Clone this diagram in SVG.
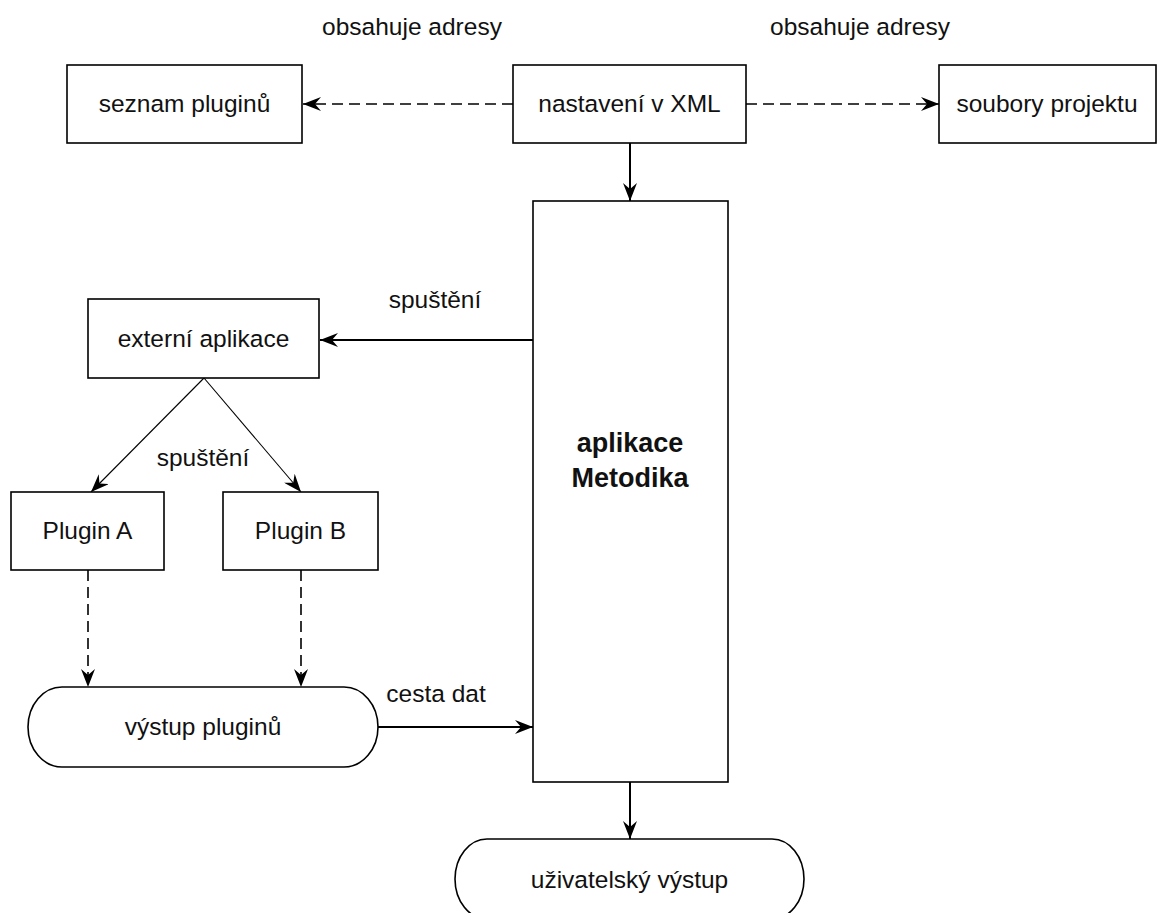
<svg xmlns="http://www.w3.org/2000/svg" width="1161" height="913" viewBox="0 0 1161 913">
<style>
.box{fill:#fff;stroke:#000;stroke-width:1.6}
.t{font-family:"Liberation Sans",Arial,sans-serif;font-size:24.5px;fill:#111;text-anchor:middle}
.tb{font-family:"Liberation Sans",Arial,sans-serif;font-size:27px;font-weight:bold;fill:#111;text-anchor:middle}
.c{fill:none;stroke:#000;stroke-width:2}
.d{fill:none;stroke:#000;stroke-width:1.6;stroke-dasharray:11 6}
.thin{fill:none;stroke:#000;stroke-width:1.1}
</style>
<defs>
<marker id="ah" viewBox="0 0 18 14" markerWidth="18" markerHeight="14" refX="18" refY="7" orient="auto" markerUnits="userSpaceOnUse">
<path d="M0,0 L18,7 L0,14 L6,7 Z" fill="#000"/>
</marker>
</defs>
<rect width="1161" height="913" fill="#fff"/>
<g id="connectors">
<line class="d" x1="513" y1="104" x2="303" y2="104" marker-end="url(#ah)"/>
<line class="d" x1="746" y1="104" x2="939" y2="104" marker-end="url(#ah)"/>
<line class="c" x1="630" y1="143" x2="630" y2="201" marker-end="url(#ah)"/>
<line class="c" x1="533" y1="340" x2="320" y2="340" marker-end="url(#ah)"/>
<line class="thin" x1="204" y1="378" x2="91" y2="492" marker-end="url(#ah)"/>
<line class="thin" x1="204" y1="378" x2="301" y2="492" marker-end="url(#ah)"/>
<line class="d" x1="88" y1="570" x2="88" y2="687" marker-end="url(#ah)"/>
<line class="d" x1="301" y1="570" x2="301" y2="687" marker-end="url(#ah)"/>
<line class="c" x1="378" y1="727" x2="533" y2="727" marker-end="url(#ah)"/>
<line class="c" x1="630" y1="782" x2="630" y2="839" marker-end="url(#ah)"/>
<text class="t" x="412" y="35">obsahuje adresy</text>
<text class="t" x="860" y="35">obsahuje adresy</text>
<text class="t" x="435" y="308">spuštění</text>
<text class="t" x="203" y="466">spuštění</text>
<text class="t" x="436" y="702">cesta dat</text>
</g>
<g id="seznam"><rect class="box" x="67" y="65" width="235" height="78"/><text class="t" x="184.5" y="112">seznam pluginů</text></g>
<g id="nastaveni"><rect class="box" x="513" y="65" width="233" height="78"/><text class="t" x="629.5" y="112">nastavení v XML</text></g>
<g id="soubory"><rect class="box" x="939" y="65" width="217" height="78"/><text class="t" x="1047" y="112">soubory projektu</text></g>
<g id="metodika"><rect class="box" x="533" y="201" width="195" height="581"/><text class="tb" x="630" y="452">aplikace</text><text class="tb" x="630" y="487">Metodika</text></g>
<g id="externi"><rect class="box" x="88" y="299" width="231" height="79"/><text class="t" x="203.5" y="347">externí aplikace</text></g>
<g id="pluginA"><rect class="box" x="11" y="492" width="153" height="78"/><text class="t" x="87.5" y="539">Plugin A</text></g>
<g id="pluginB"><rect class="box" x="223" y="492" width="155" height="78"/><text class="t" x="300.5" y="539">Plugin B</text></g>
<g id="vystup"><rect class="box" x="28" y="687" width="350" height="80" rx="34" ry="40"/><text class="t" x="203" y="735">výstup pluginů</text></g>
<g id="uzivatel"><rect class="box" x="455" y="839" width="349" height="80" rx="32" ry="40"/><text class="t" x="629.5" y="888">uživatelský výstup</text></g>
</svg>
